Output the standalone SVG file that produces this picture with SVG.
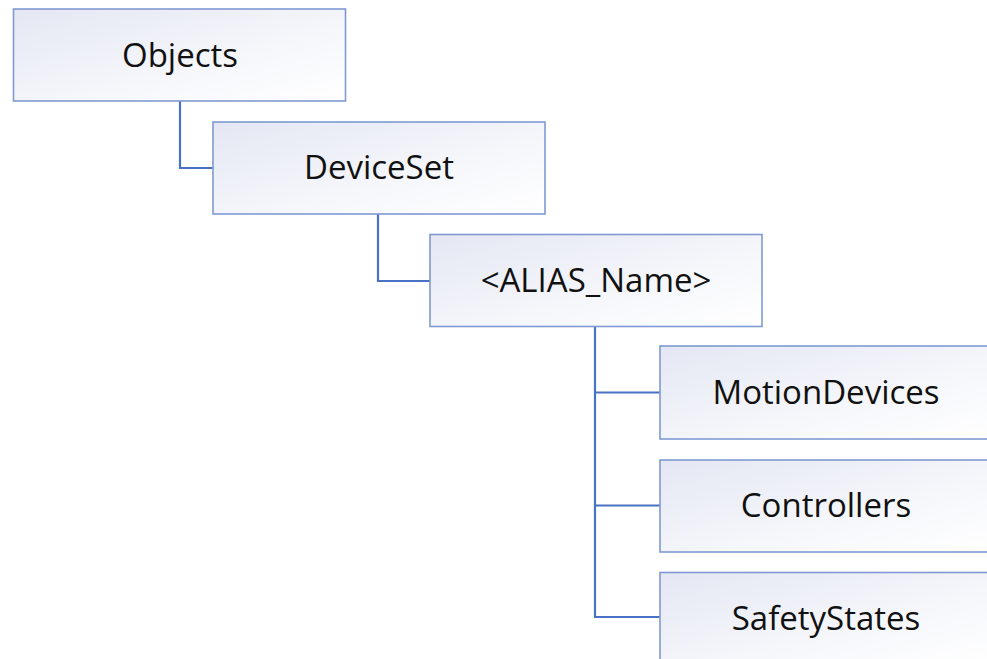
<svg xmlns="http://www.w3.org/2000/svg" width="987" height="659" viewBox="0 0 987 659">
  <defs>
    <linearGradient id="boxFill" x1="0" y1="0" x2="1" y2="1">
      <stop offset="0" stop-color="#e4e7f3"/>
      <stop offset="0.6" stop-color="#f6f7fb"/>
      <stop offset="1" stop-color="#ffffff"/>
    </linearGradient>
  </defs>
  <style>
    .box { fill: url(#boxFill); stroke: #7f9ad2; stroke-width: 1.6; }
    .label { font-family: "Open Sans", "Liberation Sans", sans-serif; font-size: 33px; fill: #111111; text-anchor: middle; }
    .link { fill: none; stroke: #4a72c4; stroke-width: 2.2; }
  </style>
  <rect width="987" height="659" fill="#ffffff"/>

  <g id="connectors">
    <path class="link" d="M180 101 V168 H213"/>
    <path class="link" d="M378 214 V281 H430"/>
    <path class="link" d="M595 327 V617 H660"/>
    <path class="link" d="M595 392.5 H660"/>
    <path class="link" d="M595 505.5 H660"/>
  </g>

  <g id="objects">
    <rect class="box" x="13.5" y="9" width="332" height="92"/>
    <text class="label" x="180" y="66.5">Objects</text>
  </g>

  <g id="deviceset">
    <rect class="box" x="213" y="122" width="332" height="92"/>
    <text class="label" x="379" y="179">DeviceSet</text>
  </g>

  <g id="alias-name">
    <rect class="box" x="430" y="234.5" width="332" height="92"/>
    <text class="label" x="596" y="292">&lt;ALIAS_Name&gt;</text>
  </g>

  <g id="motiondevices">
    <rect class="box" x="660" y="346" width="332" height="93"/>
    <text class="label" x="826" y="404">MotionDevices</text>
  </g>

  <g id="controllers">
    <rect class="box" x="660" y="460" width="332" height="92"/>
    <text class="label" x="826" y="517">Controllers</text>
  </g>

  <g id="safetystates">
    <rect class="box" x="660" y="572.5" width="332" height="92"/>
    <text class="label" x="826" y="630">SafetyStates</text>
  </g>
</svg>
